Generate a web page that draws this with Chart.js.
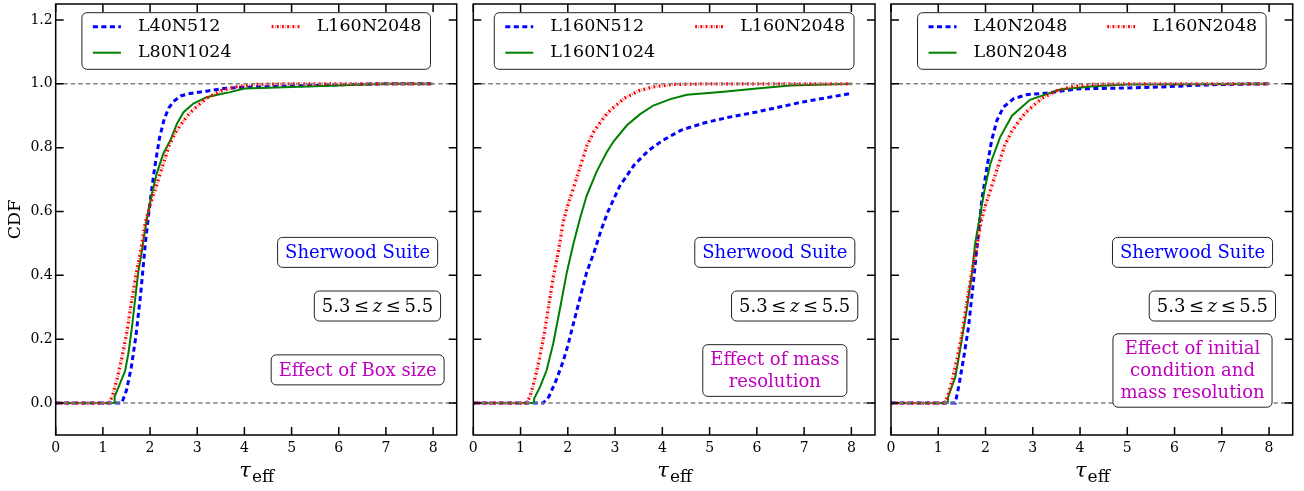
<!DOCTYPE html>
<html>
<head>
<meta charset="utf-8">
<script src="https://cdn.jsdelivr.net/npm/chart.js@4.4.0/dist/chart.umd.min.js"></script>
<style>
  html, body { margin: 0; padding: 0; background: #fff; }
  #wrap { position: relative; width: 1304px; height: 491px; overflow: hidden; }
  .panel { position: absolute; top: 0; height: 491px; }
</style>
</head>
<body>
<div id="wrap">
  <div class="panel" style="left:0;width:470px"><canvas id="c1"></canvas></div>
  <div class="panel" style="left:463px;width:420px"><canvas id="c2"></canvas></div>
  <div class="panel" style="left:883px;width:421px"><canvas id="c3"></canvas></div>
</div>
<script>
// ---- tick labels / reference levels ----
const xTicks = [0, 1, 2, 3, 4, 5, 6, 7, 8];
const yTicks = [0, 0.2, 0.4, 0.6, 0.8, 1.0, 1.2];
const refLevels = [0, 1];

// ---- CDF curves ----
// L160N2048 appears in all three panels
const tauL160N2048 = [0, 1.12, 1.2, 1.3, 1.4, 1.5, 1.6, 1.7, 1.8, 1.9, 2.0, 2.1, 2.25, 2.4, 2.55, 2.7, 2.85, 3.0, 3.2, 3.5, 3.8, 4.2, 5.0, 6.0, 7.0, 8.0];
const cdfL160N2048 = [0, 0, 0.02, 0.075, 0.14, 0.215, 0.31, 0.40, 0.475, 0.565, 0.62, 0.665, 0.735, 0.805, 0.85, 0.882, 0.91, 0.93, 0.955, 0.978, 0.99, 0.998, 1.0, 1.0, 1.0, 1.0];

// panel 1: box size
const tauL40N512 = [0, 1.40, 1.50, 1.60, 1.70, 1.80, 1.90, 2.00, 2.10, 2.20, 2.30, 2.40, 2.50, 2.65, 2.85, 3.2, 3.6, 4.0, 5.0, 6.0, 7.0, 8.0];
const cdfL40N512 = [0, 0, 0.04, 0.11, 0.21, 0.34, 0.50, 0.63, 0.74, 0.83, 0.89, 0.925, 0.945, 0.962, 0.970, 0.977, 0.986, 0.989, 0.993, 0.997, 1.0, 1.0];
const tauL80N1024 = [0, 1.24, 1.25, 1.36, 1.47, 1.54, 1.61, 1.68, 1.75, 1.82, 1.93, 2.03, 2.14, 2.28, 2.43, 2.57, 2.71, 2.92, 3.2, 3.5, 3.7, 4.0, 5.0, 6.0, 7.0, 8.0];
const cdfL80N1024 = [0, 0, 0.02, 0.06, 0.10, 0.155, 0.23, 0.32, 0.41, 0.47, 0.575, 0.65, 0.718, 0.781, 0.823, 0.875, 0.911, 0.938, 0.958, 0.968, 0.974, 0.985, 0.99, 0.995, 1.0, 1.0];

// panel 2: mass resolution
const tauL160N512 = [0, 1.48, 1.6, 1.75, 1.9, 2.0, 2.12, 2.26, 2.4, 2.55, 2.7, 2.85, 3.1, 3.4, 3.7, 4.0, 4.4, 4.9, 5.4, 6.0, 6.5, 7.0, 7.5, 8.0];
const cdfL160N512 = [0, 0, 0.02, 0.07, 0.13, 0.18, 0.25, 0.33, 0.41, 0.47, 0.54, 0.6, 0.68, 0.745, 0.79, 0.822, 0.855, 0.878, 0.895, 0.912, 0.928, 0.944, 0.957, 0.97];
const tauL160N1024 = [0, 1.28, 1.29, 1.41, 1.55, 1.69, 1.84, 1.98, 2.12, 2.26, 2.4, 2.61, 2.82, 2.97, 3.25, 3.53, 3.81, 4.17, 4.52, 5.3, 6.0, 6.71, 8.0];
const cdfL160N1024 = [0, 0, 0.015, 0.05, 0.102, 0.186, 0.30, 0.41, 0.50, 0.58, 0.65, 0.725, 0.785, 0.82, 0.87, 0.905, 0.932, 0.952, 0.966, 0.975, 0.985, 0.995, 1.0];

// panel 3: initial condition + mass resolution
const tauL40N2048 = [0, 1.36, 1.43, 1.53, 1.64, 1.74, 1.85, 1.92, 2.03, 2.13, 2.24, 2.38, 2.59, 2.87, 3.3, 3.93, 5.0, 5.7, 6.4, 7.0, 8.0];
const cdfL40N2048 = [0, 0, 0.05, 0.134, 0.238, 0.374, 0.53, 0.635, 0.739, 0.823, 0.885, 0.927, 0.953, 0.966, 0.971, 0.984, 0.987, 0.99, 0.995, 0.998, 1.0];
const tauL80N2048 = [0, 1.2, 1.21, 1.36, 1.46, 1.6, 1.71, 1.78, 1.89, 1.99, 2.1, 2.31, 2.56, 2.94, 3.58, 4.29, 5.0, 8.0];
const cdfL80N2048 = [0, 0, 0.02, 0.081, 0.165, 0.29, 0.405, 0.5, 0.593, 0.676, 0.749, 0.833, 0.9, 0.95, 0.982, 0.992, 0.998, 1.0];

const SERIF = '"DejaVu Serif", "Liberation Serif", serif';

function pts(xs, ys) {
  return xs.map((v, i) => ({ x: v, y: ys[i] }));
}

function blueLine(label, xs, ys) {
  return { label, data: pts(xs, ys), borderColor: '#0000ff', borderWidth: 3, borderDash: [5, 3.5], order: 3 };
}
function greenLine(label, xs, ys) {
  return { label, data: pts(xs, ys), borderColor: '#008000', borderWidth: 2, borderDash: [], order: 2 };
}
function redLine(label, xs, ys) {
  return { label, data: pts(xs, ys), borderColor: '#ff0000', borderWidth: 3.3, borderDash: [1.8, 1.5, 0.4, 1.5], order: 1 };
}

function boxPath(ctx, x, y, w, h, r) {
  ctx.beginPath();
  ctx.moveTo(x + r, y);
  ctx.arcTo(x + w, y, x + w, y + h, r);
  ctx.arcTo(x + w, y + h, x, y + h, r);
  ctx.arcTo(x, y + h, x, y, r);
  ctx.arcTo(x, y, x + w, y, r);
  ctx.closePath();
}

function drawLegend(chart) {
  const { ctx, chartArea: a } = chart;
  const items = chart.data.datasets.filter(d => d.label);
  const cols = [items.slice(0, 2), items.slice(2)];
  ctx.font = '17.5px ' + SERIF;
  const colW = cols.map(c => 45 + Math.max(...c.map(d => ctx.measureText(d.label).width)));
  const boxW = 11 + colW[0] + 40 + colW[1] + 9;
  const boxH = 56.6;
  const left = (a.left + a.right) / 2 - boxW / 2;
  const top = a.top + 8.7;
  boxPath(ctx, left, top, boxW, boxH, 5);
  ctx.fillStyle = '#fff';
  ctx.fill();
  ctx.lineWidth = 1;
  ctx.strokeStyle = '#222';
  ctx.stroke();

  let sx = left + 11;
  cols.forEach((c, ci) => {
    c.forEach((d, ri) => {
      const yc = top + 14 + ri * 26;
      ctx.save();
      ctx.setLineDash(d.borderDash || []);
      ctx.lineWidth = d.borderWidth;
      ctx.strokeStyle = d.borderColor;
      ctx.beginPath();
      ctx.moveTo(sx, yc);
      ctx.lineTo(sx + 28, yc);
      ctx.stroke();
      ctx.restore();
      ctx.fillStyle = '#000';
      ctx.textAlign = 'left';
      ctx.textBaseline = 'middle';
      ctx.fillText(d.label, sx + 45, yc);
    });
    sx += colW[ci] + 40;
  });
}

function drawNote(ctx, xs, ys, n) {
  const cx = xs.getPixelForValue(n.x);
  const cy = ys.getPixelForValue(n.y);
  const lineH = 21.7;
  let w;
  if (n.math) {
    w = 0;
    n.math.forEach(s => { ctx.font = (s.it ? 'italic ' : '') + '18px ' + SERIF; w += ctx.measureText(s.t).width; });
  } else {
    ctx.font = '18px ' + SERIF;
    w = Math.max(...n.lines.map(t => ctx.measureText(t).width));
  }
  const nl = n.math ? 1 : n.lines.length;
  const bw = w + 15, bh = nl * lineH + 8.3;
  boxPath(ctx, cx - bw / 2, cy - bh / 2, bw, bh, 5);
  ctx.fillStyle = '#fff';
  ctx.fill();
  ctx.lineWidth = 1;
  ctx.strokeStyle = '#222';
  ctx.stroke();
  ctx.textBaseline = 'middle';
  if (n.math) {
    let tx = cx - w / 2;
    ctx.textAlign = 'left';
    ctx.fillStyle = '#000';
    n.math.forEach(s => {
      ctx.font = (s.it ? 'italic ' : '') + '18px ' + SERIF;
      ctx.fillText(s.t, tx, cy + 1);
      tx += ctx.measureText(s.t).width;
    });
  } else {
    ctx.textAlign = 'center';
    ctx.fillStyle = n.color;
    n.lines.forEach((t, i) => {
      ctx.fillText(t, cx, cy - (nl - 1) * lineH / 2 + i * lineH + 1);
    });
  }
}

const panelDecor = {
  id: 'panelDecor',
  afterDatasetsDraw(chart, args, opts) {
    const { ctx, chartArea: a, scales: { x, y } } = chart;
    ctx.save();
    // dashed reference lines
    ctx.setLineDash([4.5, 3]);
    ctx.lineWidth = 1.5;
    ctx.strokeStyle = '#808080';
    refLevels.forEach(v => {
      const py = y.getPixelForValue(v);
      ctx.beginPath();
      ctx.moveTo(a.left, py);
      ctx.lineTo(a.right, py);
      ctx.stroke();
    });
    ctx.setLineDash([]);

    drawLegend(chart);
    opts.notes.forEach(n => drawNote(ctx, x, y, n));

    // frame + inward ticks
    ctx.strokeStyle = '#000';
    ctx.lineWidth = 1.5;
    ctx.strokeRect(a.left, a.top, a.right - a.left, a.bottom - a.top);
    const tl = 8;
    ctx.beginPath();
    xTicks.forEach(v => {
      const px = x.getPixelForValue(v);
      ctx.moveTo(px, a.bottom); ctx.lineTo(px, a.bottom - tl);
      ctx.moveTo(px, a.top); ctx.lineTo(px, a.top + tl);
    });
    yTicks.forEach(v => {
      const py = y.getPixelForValue(v);
      ctx.moveTo(a.left, py); ctx.lineTo(a.left + tl, py);
      ctx.moveTo(a.right, py); ctx.lineTo(a.right - tl, py);
    });
    ctx.stroke();

    // x title: tau_eff
    const mid = (a.left + a.right) / 2;
    ctx.font = 'italic 21px ' + SERIF;
    const wt = ctx.measureText('τ').width;
    ctx.font = '17px ' + SERIF;
    const we = ctx.measureText('eff').width;
    const x0 = mid - (wt + we) / 2;
    ctx.fillStyle = '#000';
    ctx.textAlign = 'left';
    ctx.textBaseline = 'alphabetic';
    ctx.font = 'italic 21px ' + SERIF;
    ctx.fillText('τ', x0, 477);
    ctx.font = '17px ' + SERIF;
    ctx.fillText('eff', x0 + wt + 1, 481.5);

    if (opts.yTitle) {
      ctx.save();
      ctx.translate(15.7, (a.top + a.bottom) / 2);
      ctx.rotate(-Math.PI / 2);
      ctx.font = '17.5px ' + SERIF;
      ctx.textAlign = 'center';
      ctx.textBaseline = 'middle';
      ctx.fillText(opts.yTitle, 0, 0);
      ctx.restore();
    }
    ctx.restore();
  }
};

const zRange = [{ t: '5.3\u2009≤\u2009' }, { t: 'z', it: true }, { t: '\u2009≤\u20095.5' }];

function noPad(s) {
  s.paddingTop = 0; s.paddingBottom = 0; s.paddingLeft = 0; s.paddingRight = 0;
}

function makePanel(id, datasets, cfg) {
  new Chart(document.getElementById(id), {
    type: 'line',
    data: { datasets: datasets.map(d => Object.assign({ pointRadius: 0, tension: 0, fill: false }, d)) },
    plugins: [panelDecor],
    options: {
      responsive: true,
      maintainAspectRatio: false,
      animation: false,
      layout: { padding: { left: 0, right: cfg.padRight, top: 4, bottom: 0 } },
      plugins: {
        legend: { display: false },
        tooltip: { enabled: false },
        panelDecor: { notes: cfg.notes, yTitle: cfg.yTitle }
      },
      scales: {
        x: {
          type: 'linear', min: 0, max: 8.5,
          grid: { display: false, drawTicks: false },
          border: { display: false },
          afterBuildTicks: s => { s.ticks = xTicks.map(v => ({ value: v })); },
          afterFit: s => { s.height = 56; noPad(s); },
          ticks: { autoSkip: false, maxRotation: 0, padding: 5, color: '#000', font: { family: SERIF, size: 14 }, callback: v => String(v) }
        },
        y: {
          type: 'linear', min: -0.1, max: 1.25,
          grid: { display: false, drawTicks: false },
          border: { display: false },
          afterBuildTicks: s => { s.ticks = yTicks.map(v => ({ value: v })); },
          afterFit: s => { s.width = cfg.axisW; noPad(s); },
          ticks: { display: cfg.showY, autoSkip: false, padding: 3, color: '#000', font: { family: SERIF, size: 14 }, callback: v => v.toFixed(1) }
        }
      }
    }
  });
}

makePanel('c1', [
  blueLine('L40N512', tauL40N512, cdfL40N512),
  greenLine('L80N1024', tauL80N1024, cdfL80N1024),
  redLine('L160N2048', tauL160N2048, cdfL160N2048)
], {
  padRight: 13.3, axisW: 55.7, showY: true, yTitle: 'CDF',
  notes: [
    { x: 6.4, y: 0.472, lines: ['Sherwood Suite'], color: '#0000ff' },
    { x: 6.82, y: 0.304, math: zRange },
    { x: 6.4, y: 0.104, lines: ['Effect of Box size'], color: '#bf00bf' }
  ]
});

makePanel('c2', [
  blueLine('L160N512', tauL160N512, cdfL160N512),
  greenLine('L160N1024', tauL160N1024, cdfL160N1024),
  redLine('L160N2048', tauL160N2048, cdfL160N2048)
], {
  padRight: 8, axisW: 10.3, showY: false,
  notes: [
    { x: 6.38, y: 0.472, lines: ['Sherwood Suite'], color: '#0000ff' },
    { x: 6.8, y: 0.304, math: zRange },
    { x: 6.38, y: 0.102, lines: ['Effect of mass', 'resolution'], color: '#bf00bf' }
  ]
});

makePanel('c3', [
  blueLine('L40N2048', tauL40N2048, cdfL40N2048),
  greenLine('L80N2048', tauL80N2048, cdfL80N2048),
  redLine('L160N2048', tauL160N2048, cdfL160N2048)
], {
  padRight: 11.3, axisW: 8, showY: false,
  notes: [
    { x: 6.38, y: 0.472, lines: ['Sherwood Suite'], color: '#0000ff' },
    { x: 6.8, y: 0.304, math: zRange },
    { x: 6.38, y: 0.102, lines: ['Effect of initial', 'condition and', 'mass resolution'], color: '#bf00bf' }
  ]
});
</script>
</body>
</html>
